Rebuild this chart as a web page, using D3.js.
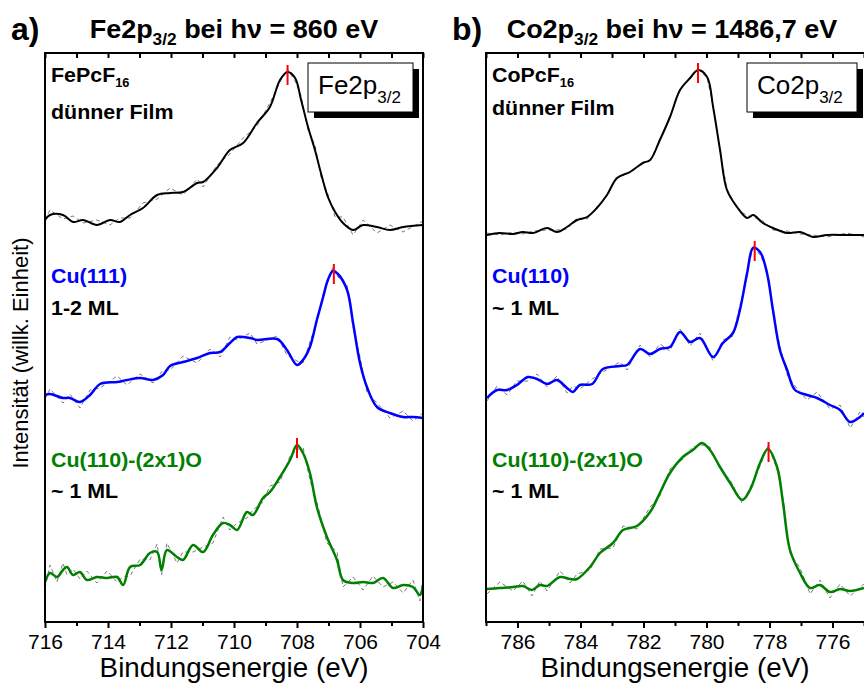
<!DOCTYPE html>
<html>
<head>
<meta charset="utf-8">
<script src="https://cdn.jsdelivr.net/npm/d3@7"></script>
<style>
body { margin: 0; background: #fff; }
text { font-family: Arial, "Liberation Sans", sans-serif; }
</style>
</head>
<body>
<script>
//size of the whole figure
var width = 864,
	height = 684;

// [binding energy (eV), smoothed intensity (arb. units)]
var feFilm = [[716.0,402],[715.84,407],[715.43,407],[715.11,400],[714.79,402],[714.35,397],[713.94,402],[713.62,400],
	[713.30,407],[712.89,414],[712.44,427],[712.03,429],[711.62,430],[711.17,439],[710.98,440],[710.54,454],
	[710.13,472],[709.71,479],[709.27,499],[708.86,515],[708.54,542],[708.30,550],[708.06,544],[707.87,522],
	[707.65,495],[707.43,472],[707.24,449],[707.02,425],[706.79,410],[706.54,399],[706.22,392],[705.90,397],
	[705.46,395],[705.05,392],[704.63,395],[704.0,397]];
var feFilmNoise = [0,5,-4,6,-3,5,-5,4,-3,5,-4,5,-3,4,-5,3,-4,5,-3,4,-2,3,-3,4,-3,5,-4,3,-5,6,-5,5,-6,5,-5,4];

var feCu111 = [[716.0,227],[715.84,228],[715.43,224],[715.21,224],[714.89,220],[714.57,227],[714.25,238],[713.71,240],
	[713.40,242],[712.98,244],[712.57,242],[712.25,247],[712.03,256],[711.62,260],[711.17,264],[710.76,269],
	[710.44,270],[710.13,279],[709.90,285],[709.49,284],[709.27,282],[708.63,283],[708.32,272],[708.0,257],
	[707.81,262],[707.59,275],[707.37,302],[707.17,325],[707.02,342],[706.86,351],[706.70,348],[706.41,332],
	[706.22,299],[706.0,259],[705.78,235],[705.46,215],[705.05,209],[704.63,205],[704.32,205],[704.0,204]];
var feCu111Noise = [-4,5,-5,4,-6,5,-4,6,-5,4,-3,5,-4,6,-5,4,-5,6,-3,5,-4,3,-5,4,-3,5,-2,3,-2,4,-3,5,-4,6,-5,4,-5,6,-4,5];

var feCuO = [[716.0,40],[715.84,49],[715.62,45],[715.43,52],[715.30,55],[715.11,47],[714.89,50],[714.67,42],
	[714.35,45],[714.03,44],[713.71,45],[713.52,37],[713.30,55],[712.98,57],[712.67,69],[712.44,70],
	[712.30,52],[712.13,72],[711.81,65],[711.62,62],[711.30,77],[710.98,70],[710.67,87],[710.35,99],
	[710.13,97],[709.90,92],[709.59,110],[709.40,107],[709.08,124],[708.86,130],[708.54,145],[708.22,162],
	[708.0,177],[707.81,169],[707.59,149],[707.37,115],[707.05,85],[706.73,62],[706.54,42],[706.22,39],
	[705.90,40],[705.59,39],[705.27,44],[704.95,34],[704.63,37],[704.32,35],[704.10,27],[704.0,37]];
var feCuONoise = [-6,8,-5,7,-8,6,-7,9,-6,7,-5,8,-9,6,-7,8,-5,7,-6,8,-7,5,-8,6,-5,7,-6,5,-4,6,-5,4,-5,6,-7,5,-6,8,-7,6,-8,7,-9,6,-8,7,-6,5];

var coFilm = [[786.97,387],[786.56,389],[786.14,388],[785.83,390],[785.51,389],[785.06,394],[784.75,390],[784.43,395],
	[784.11,402],[783.79,405],[783.48,414],[783.16,427],[782.84,444],[782.43,450],[782.02,459],[781.79,462],
	[781.48,482],[781.16,505],[780.84,532],[780.52,544],[780.27,552],[779.98,545],[779.79,515],[779.57,472],
	[779.35,432],[779.03,415],[778.71,404],[778.52,407],[778.21,399],[777.89,394],[777.44,389],[777.03,390],
	[776.62,385],[776.17,387],[775.54,387],[775.0,387]];
var coFilmNoise = [2,-2,2,-2,2,-2,2,-2,2,-2,1,-1,1,-1,1,-1,1,-1,1,-1,1,-1,1,-1,1,-1,2,-2,2,-2,2,-2,2,-2,2,-2];

var coCu110 = [[786.97,224],[786.65,232],[786.33,232],[786.02,237],[785.67,245],[785.38,243],[785.06,238],[784.75,242],
	[784.43,234],[784.24,230],[784.02,237],[783.63,238],[783.29,253],[782.75,256],[782.52,257],[782.11,273],
	[781.79,268],[781.48,273],[781.16,275],[780.84,290],[780.52,280],[780.21,284],[779.79,265],[779.48,279],
	[779.16,289],[778.94,312],[778.71,349],[778.52,374],[778.30,370],[778.08,349],[777.89,312],[777.67,272],
	[777.44,252],[777.19,232],[776.81,227],[776.49,224],[776.08,217],[775.76,212],[775.44,200],[775.13,205],[775.0,209]];
var coCu110Noise = [-3,4,-5,4,-4,5,-3,4,-5,6,-4,5,-3,4,-5,4,-3,5,-4,3,-4,5,-4,3,-3,4,-2,3,-3,4,-3,4,-5,4,-5,6,-4,5,-6,5,-4];

var coCuO = [[786.97,33],[786.56,34],[786.14,35],[785.83,36],[785.54,32],[785.29,37],[785.06,36],[784.65,45],
	[784.33,43],[784.11,43],[783.70,55],[783.38,69],[782.97,79],[782.65,92],[782.21,96],[781.79,110],
	[781.48,129],[781.16,149],[780.75,165],[780.43,172],[780.14,179],[779.89,172],[779.57,155],[779.25,139],
	[778.87,122],[778.62,132],[778.30,159],[778.05,173],[777.76,155],[777.57,119],[777.35,72],[777.03,49],
	[776.71,34],[776.40,37],[776.08,30],[775.76,33],[775.44,31],[775.0,34]];
var coCuONoise = [-5,6,-4,5,-6,4,-5,6,-4,5,-3,4,-5,4,-3,5,-3,4,-2,3,-2,3,-2,3,-3,2,-3,3,-2,4,-3,5,-6,5,-6,5,-5,4];

// peak positions (eV) and marker heights
var peaksFe = [708.3, 706.83, 708.0],
	peaksFeI = [550, 351, 177];
var peaksCo = [780.27, 778.47, 778.03],
	peaksCoI = [552, 374, 173];

// tick values
var ticksFe = [716, 714, 712, 710, 708, 706, 704],
	minorFe = [715, 713, 711, 709, 707, 705];
var ticksCo = [786, 784, 782, 780, 778, 776],
	minorCo = [787, 785, 783, 781, 779, 777, 775];

var colors = ["#000000", "#0000ff", "#008000"];

var svg = d3.select("body").append("svg")
	.attr("width", width)
	.attr("height", height);

var plotTop = 53, plotBottom = 622;

var yScale = d3.scaleLinear()
	.domain([0, 569])
	.range([plotBottom, plotTop]);

var panels = [
	{id: "a", domain: [716, 704], range: [45, 423], ticks: ticksFe, minor: minorFe,
		series: [feFilm, feCu111, feCuO], noise: [feFilmNoise, feCu111Noise, feCuONoise],
		peaks: peaksFe, peaksI: peaksFeI, el: "Fe", letter: "a)", title: "860 eV",
		film: "FePcF", subs: ["Cu(111)", "Cu(110)-(2x1)O"], cover: ["1-2 ML", "~ 1 ML"],
		box: [308, 63, 105, 49]},
	{id: "b", domain: [787, 775], range: [486, 864], ticks: ticksCo, minor: minorCo,
		series: [coFilm, coCu110, coCuO], noise: [coFilmNoise, coCu110Noise, coCuONoise],
		peaks: peaksCo, peaksI: peaksCoI, el: "Co", letter: "b)", title: "1486,7 eV",
		film: "CoPcF", subs: ["Cu(110)", "Cu(110)-(2x1)O"], cover: ["~ 1 ML", "~ 1 ML"],
		box: [747, 63, 110, 49]}
];

// text with a slight horizontal stretch, like the original figure
function label(parent, x, y, size, sx){
	return parent.append("text")
		.attr("transform", "translate(" + x + "," + y + ") scale(" + sx + ",1)")
		.attr("font-size", size);
}

panels.forEach(function(p){

	var xScale = d3.scaleLinear()
		.domain(p.domain)
		.range(p.range);

	var left = p.range[0], right = p.range[1];
	var g = svg.append("g");

	g.append("clipPath")
		.attr("id", "clip" + p.id)
		.append("rect")
			.attr("x", left)
			.attr("y", plotTop)
			.attr("width", right - left)
			.attr("height", plotBottom - plotTop);

	var smooth = d3.line()
		.x(function(d){ return xScale(d[0]); })
		.y(function(d){ return yScale(d[1]); })
		.curve(d3.curveCatmullRom.alpha(0.5));

	var raw = d3.line()
		.x(function(d){ return xScale(d[0]); })
		.y(function(d){ return yScale(d[1]); });

	var curves = g.append("g").attr("clip-path", "url(#clip" + p.id + ")");

	p.series.forEach(function(s, i){
		var noisy = s.map(function(d, j){
			return [d[0], d[1] + (p.noise[i][j] || 0)];
		});
		curves.append("path")
			.attr("d", raw(noisy))
			.attr("fill", "none")
			.attr("stroke", "#7a7a7a")
			.attr("stroke-width", 1)
			.attr("stroke-dasharray", "4,3");
		curves.append("path")
			.attr("d", smooth(s))
			.attr("fill", "none")
			.attr("stroke", colors[i])
			.attr("stroke-width", i == 0 ? 2 : 2.5)
			.attr("stroke-linejoin", "round");
	});

	// red peak markers
	curves.selectAll(".peak")
		.data(p.peaks)
		.enter()
		.append("line")
			.attr("class", "peak")
			.attr("x1", function(d){ return xScale(d); })
			.attr("x2", function(d){ return xScale(d); })
			.attr("y1", function(d, i){ return yScale(p.peaksI[i] + 7); })
			.attr("y2", function(d, i){ return yScale(p.peaksI[i] - 13); })
			.attr("stroke", "#ff0000")
			.attr("stroke-width", 2);

	// axes
	var bottomAxis = d3.axisBottom(xScale)
		.tickValues(p.ticks)
		.tickSize(6)
		.tickPadding(6)
		.tickFormat(d3.format("d"));
	var ax = g.append("g")
		.attr("transform", "translate(0," + plotBottom + ")")
		.call(bottomAxis);
	ax.select(".domain").remove();
	ax.selectAll("line").attr("stroke-width", 2);
	ax.selectAll("text")
		.attr("font-family", "Arial, 'Liberation Sans', sans-serif")
		.attr("font-size", 21)
		.attr("fill", "#000");

	var minorAxis = d3.axisBottom(xScale)
		.tickValues(p.minor)
		.tickSize(4)
		.tickFormat("");
	var mx = g.append("g")
		.attr("transform", "translate(0," + plotBottom + ")")
		.call(minorAxis);
	mx.select(".domain").remove();
	mx.selectAll("line").attr("stroke-width", 2);

	var topAxis = d3.axisTop(xScale)
		.tickValues(p.ticks.concat(p.minor))
		.tickSize(-5)
		.tickFormat("");
	var tx = g.append("g")
		.attr("transform", "translate(0," + plotTop + ")")
		.call(topAxis);
	tx.select(".domain").remove();
	tx.selectAll("line").attr("stroke-width", 2);

	g.append("rect")
		.attr("x", left)
		.attr("y", plotTop)
		.attr("width", (p.id == "b" ? right + 3 : right) - left)
		.attr("height", plotBottom - plotTop)
		.attr("fill", "none")
		.attr("stroke", "#000")
		.attr("stroke-width", 2);

	label(g, (left + right) / 2, 677, 27, 1.03)
		.attr("text-anchor", "middle")
		.text("Bindungsenergie (eV)");

	// panel letter and title
	label(g, left - 34, 40, 32, 1)
		.attr("font-weight", "bold")
		.text(p.letter);

	var title = label(g, (left + right) / 2 + (p.id == "b" ? -3 : 0), 38, 25, 1.08)
		.attr("text-anchor", "middle")
		.attr("font-weight", "bold");
	title.append("tspan").text(p.el + "2p");
	title.append("tspan").attr("dy", 7).attr("font-size", 16).text("3/2");
	title.append("tspan").attr("dy", -7).text(" bei h\u03bd = " + p.title);

	// legend box with shadow
	var b = p.box;
	g.append("rect")
		.attr("x", b[0] + 6)
		.attr("y", b[1] + 6)
		.attr("width", b[2])
		.attr("height", b[3])
		.attr("fill", "#000");
	g.append("rect")
		.attr("x", b[0])
		.attr("y", b[1])
		.attr("width", b[2])
		.attr("height", b[3])
		.attr("fill", "#fff")
		.attr("stroke", "#000")
		.attr("stroke-width", 1);
	var lt = label(g, b[0] + 10, b[1] + 31, 26, 1);
	lt.append("tspan").text(p.el + "2p");
	lt.append("tspan").attr("dy", 9).attr("font-size", 17).text("3/2");

	// sample labels
	var fl = label(g, left + 6, 82, 20, 1.07)
		.attr("font-weight", "bold");
	fl.append("tspan").text(p.film);
	fl.append("tspan").attr("dy", 5).attr("font-size", 12).text("16");

	label(g, left + 6, p.id == "a" ? 119 : 115, 20, 1.07)
		.attr("font-weight", "bold")
		.text("d\u00fcnner Film");

	var subY = [[283, 315], [467, 498]];
	p.subs.forEach(function(s, i){
		label(g, left + 6, subY[i][0], 20, 1.07)
			.attr("font-weight", "bold")
			.attr("fill", colors[i + 1])
			.text(s);
		label(g, left + 6, subY[i][1], 20, 1.07)
			.attr("font-weight", "bold")
			.text(p.cover[i]);
	});
});

svg.append("text")
	.attr("transform", "translate(28,353) rotate(-90)")
	.attr("text-anchor", "middle")
	.attr("font-size", 22)
	.text("Intensit\u00e4t (willk. Einheit)");
</script>
</body>
</html>
